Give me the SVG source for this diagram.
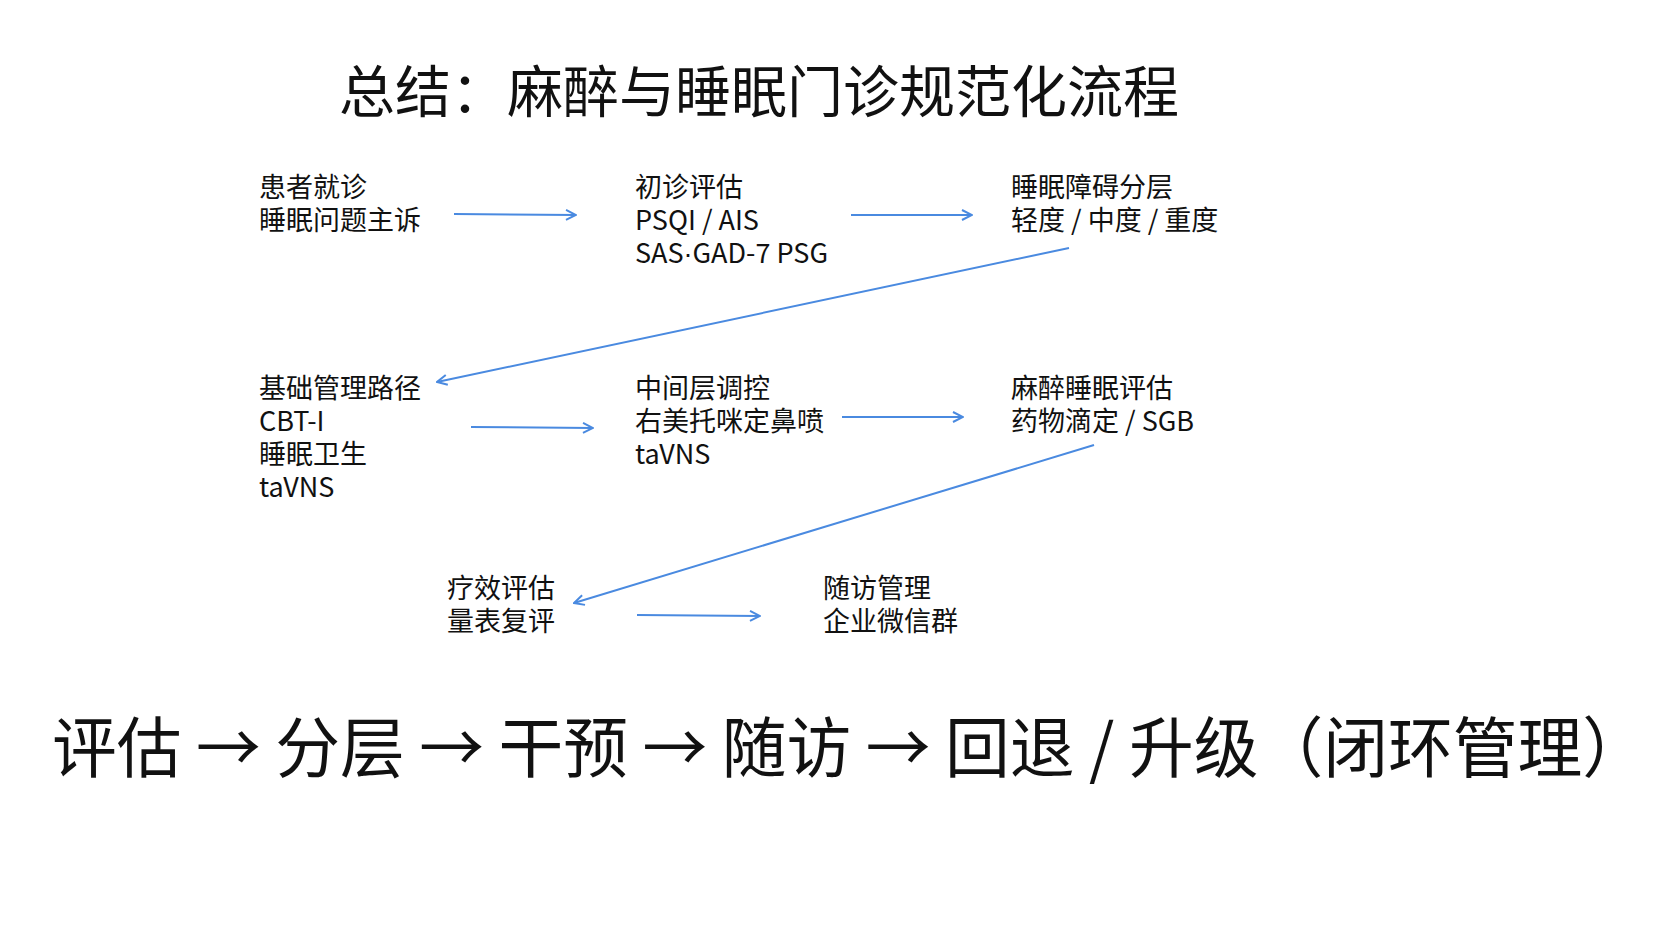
<svg xmlns="http://www.w3.org/2000/svg" width="1672" height="941" viewBox="0 0 1672 941">
<style>
text{font-family:"Noto Sans CJK SC","Noto Sans",sans-serif;fill:#111}
.n{font-size:27px;font-family:"Noto Sans","Noto Sans CJK SC",sans-serif}
.d{font-family:"Liberation Sans",sans-serif}
.c{stroke:#4a8ae0;stroke-width:2;fill:none}
</style>
<defs><marker id="a" viewBox="0 0 12 12" refX="11" refY="6" markerWidth="12" markerHeight="12" markerUnits="userSpaceOnUse" orient="auto"><path d="M1,1 L11,6 L1,11" fill="none" stroke="#4a8ae0" stroke-width="2"/></marker></defs>
<rect width="1672" height="941" fill="#fff"/>
<text x="759" y="112" font-size="56" text-anchor="middle">总结：麻醉与睡眠门诊规范化流程</text>
<g id="n1" class="n"><text x="259" y="197">患者就诊</text><text x="259" y="230">睡眠问题主诉</text></g>
<g id="n2" class="n"><text x="635" y="197">初诊评估</text><text x="635" y="230">PSQI / AIS</text><text x="635" y="263">SAS<tspan class="d">·</tspan>GAD-7 PSG</text></g>
<g id="n3" class="n"><text x="1011" y="197">睡眠障碍分层</text><text x="1011" y="230">轻度 / 中度 / 重度</text></g>
<g id="n4" class="n"><text x="259" y="398">基础管理路径</text><text x="259" y="431">CBT-I</text><text x="259" y="464">睡眠卫生</text><text x="259" y="497">taVNS</text></g>
<g id="n5" class="n"><text x="635" y="398">中间层调控</text><text x="635" y="431">右美托咪定鼻喷</text><text x="635" y="464">taVNS</text></g>
<g id="n6" class="n"><text x="1011" y="398">麻醉睡眠评估</text><text x="1011" y="431">药物滴定 / SGB</text></g>
<g id="n7" class="n"><text x="447" y="598">疗效评估</text><text x="447" y="631">量表复评</text></g>
<g id="n8" class="n"><text x="823" y="598">随访管理</text><text x="823" y="631">企业微信群</text></g>
<g id="connectors" class="c">
<line x1="454" y1="214" x2="576" y2="215" marker-end="url(#a)"/>
<line x1="851" y1="215" x2="972" y2="215" marker-end="url(#a)"/>
<line x1="1069" y1="248" x2="437" y2="382" marker-end="url(#a)"/>
<line x1="471" y1="427" x2="593" y2="428" marker-end="url(#a)"/>
<line x1="842" y1="417" x2="963" y2="417" marker-end="url(#a)"/>
<line x1="1094" y1="445" x2="574" y2="603" marker-end="url(#a)"/>
<line x1="637" y1="615" x2="760" y2="616" marker-end="url(#a)"/>
</g>
<text x="52" y="772" font-size="66" textLength="1595" lengthAdjust="spacingAndGlyphs">评估 → 分层 → 干预 → 随访 → 回退 / 升级（闭环管理）</text>
</svg>
